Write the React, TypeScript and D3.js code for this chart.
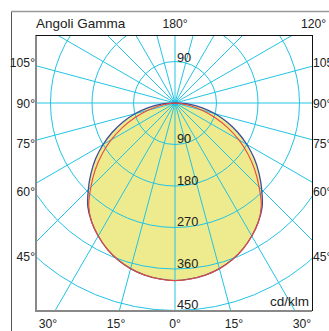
import React from "react";
import * as d3 from "d3";

// Photometric data (cd/klm) by gamma angle
const GAMMA_BLUE = [0, 5, 10, 15, 20, 25, 30, 35, 40, 45, 50, 55, 60, 65, 70, 75, 80, 85, 90];
const BLUE = [385, 383, 379, 372, 362, 349, 333, 315, 294, 266, 238, 210, 180, 150, 120, 90, 60, 30, 0];
const GAMMA_RED = [0, 5, 10, 15, 20, 25, 30, 35, 40, 45, 50, 55, 60, 65, 70, 75, 80, 85, 90];
const RED = [385, 383, 379, 372, 362, 349, 333, 315, 291, 258, 226, 193, 160, 126, 92, 62, 34, 12, 0];

const RING_VALUES = [90, 180, 270, 360, 450, 540];
const RING_LABELS = [90, 180, 270, 360, 450];
const SPOKE_ANGLES = d3.range(0, 360, 15);
const SIDE_LABELS = [105, 90, 75, 60, 45];
const BOTTOM_LABELS = [-30, -15, 0, 15, 30];
const TOP_LABELS = [180, 120];
const TITLE = "Angoli Gamma";
const UNIT = "cd/klm";

const W = 329;
const H = 331;
const BOX = { l: 36, t: 35, r: 312, b: 311 };
const CX = 175;
const CY = 103;
const FONT = "'Liberation Sans', Arial, Helvetica, sans-serif";
const GRID = "#22c3e4";
const rad = (d: number) => (d * Math.PI) / 180;

const rScale = d3.scaleLinear().domain([0, 450]).range([0, 207.5]);

function buildPoints(gammas: number[], vals: number[]): [number, number][] {
  const pts: [number, number][] = [];
  for (let i = gammas.length - 1; i >= 0; i--) pts.push([Math.PI - rad(gammas[i]), vals[i]]);
  for (let i = 1; i < gammas.length; i++) pts.push([Math.PI + rad(gammas[i]), vals[i]]);
  return pts;
}

const radial = d3
  .lineRadial<[number, number]>()
  .angle((d) => d[0])
  .radius((d) => rScale(d[1]))
  .curve(d3.curveCatmullRom.alpha(0.5));

export default function App() {
  const bluePath = radial(buildPoints(GAMMA_BLUE, BLUE)) || "";
  const redPath = radial(buildPoints(GAMMA_RED, RED)) || "";
  const big = { fontFamily: FONT, fontSize: 13.5, fill: "#222" } as const;
  const tick = { fontFamily: FONT, fontSize: 12.2, fill: "#222" } as const;
  const ring = { fontFamily: FONT, fontSize: 12.8, fill: "#222" } as const;

  return (
    <svg width={W} height={H} style={{ position: "fixed", left: 0, top: 0, background: "#fff" }}>
      <defs>
        <clipPath id="plotclip">
          <rect x={BOX.l} y={BOX.t} width={BOX.r - BOX.l} height={BOX.b - BOX.t} />
        </clipPath>
      </defs>
      {/* outer frame */}
      <line x1={11.5} y1={11} x2={11.5} y2={H} stroke="#555" strokeWidth={1} />
      <line x1={11} y1={11.5} x2={W} y2={11.5} stroke="#999" strokeWidth={1.5} />

      <g clipPath="url(#plotclip)">
        <rect x={BOX.l} y={BOX.t} width={BOX.r - BOX.l} height={BOX.b - BOX.t} fill="#fff" />
        <path d={bluePath} transform={`translate(${CX},${CY})`} fill="#eeeb8f" stroke="none" />
        {RING_VALUES.map((v) => (
          <circle key={v} cx={CX} cy={CY} r={rScale(v)} fill="none" stroke={GRID} strokeWidth={1} />
        ))}
        {SPOKE_ANGLES.map((g) => (
          <line
            key={g}
            x1={CX}
            y1={CY}
            x2={CX + 500 * Math.sin(rad(g))}
            y2={CY + 500 * Math.cos(rad(g))}
            stroke={GRID}
            strokeWidth={1}
          />
        ))}
        <path d={bluePath} transform={`translate(${CX},${CY})`} fill="none" stroke="#3d4c9c" strokeWidth={1.3} />
        <path d={redPath} transform={`translate(${CX},${CY})`} fill="none" stroke="#e84a3c" strokeWidth={1.1} />
        {RING_LABELS.map((v) => (
          <text key={"d" + v} x={CX + 2} y={CY + rScale(v) - 1.5} {...ring}>
            {v}
          </text>
        ))}
        {RING_LABELS.filter((v) => CY - rScale(v) > BOX.t + 10).map((v) => (
          <text key={"u" + v} x={CX + 2} y={CY - rScale(v) + 0.5} {...ring}>
            {v}
          </text>
        ))}
        <text x={BOX.r - 3} y={BOX.b - 5} textAnchor="end" {...big}>
          {UNIT}
        </text>
      </g>

      {/* inner box */}
      <line x1={BOX.l} y1={BOX.t} x2={BOX.l} y2={BOX.b} stroke="#888" strokeWidth={2} />
      <line x1={BOX.l - 1} y1={BOX.b} x2={BOX.r} y2={BOX.b} stroke="#888" strokeWidth={2} />
      <line x1={BOX.l} y1={BOX.t + 0.5} x2={BOX.r + 0.5} y2={BOX.t + 0.5} stroke="#111" strokeWidth={1} />
      <line x1={BOX.r + 0.5} y1={BOX.t} x2={BOX.r + 0.5} y2={BOX.b} stroke="#111" strokeWidth={1} />

      <text x={BOX.l} y={28} {...big}>
        {TITLE}
      </text>
      {TOP_LABELS.map((g) => (
        <text key={"t" + g} x={CX + (CY - 23) * Math.tan(rad(180 - g))} y={28} textAnchor="middle" {...tick}>
          {g}°
        </text>
      ))}
      {SIDE_LABELS.map((g) => {
        const y = CY + (CX - 22) * (Math.cos(rad(g)) / Math.sin(rad(g))) + 4.5;
        return (
          <g key={"s" + g}>
            <text x={35} y={y} textAnchor="end" {...tick}>
              {g}°
            </text>
            <text x={313} y={y} textAnchor="start" {...tick}>
              {g}°
            </text>
          </g>
        );
      })}
      {BOTTOM_LABELS.map((g, i) => (
        <text key={"b" + i} x={CX + (323 - CY) * Math.tan(rad(g))} y={328} textAnchor="middle" {...tick}>
          {Math.abs(g)}°
        </text>
      ))}
    </svg>
  );
}
